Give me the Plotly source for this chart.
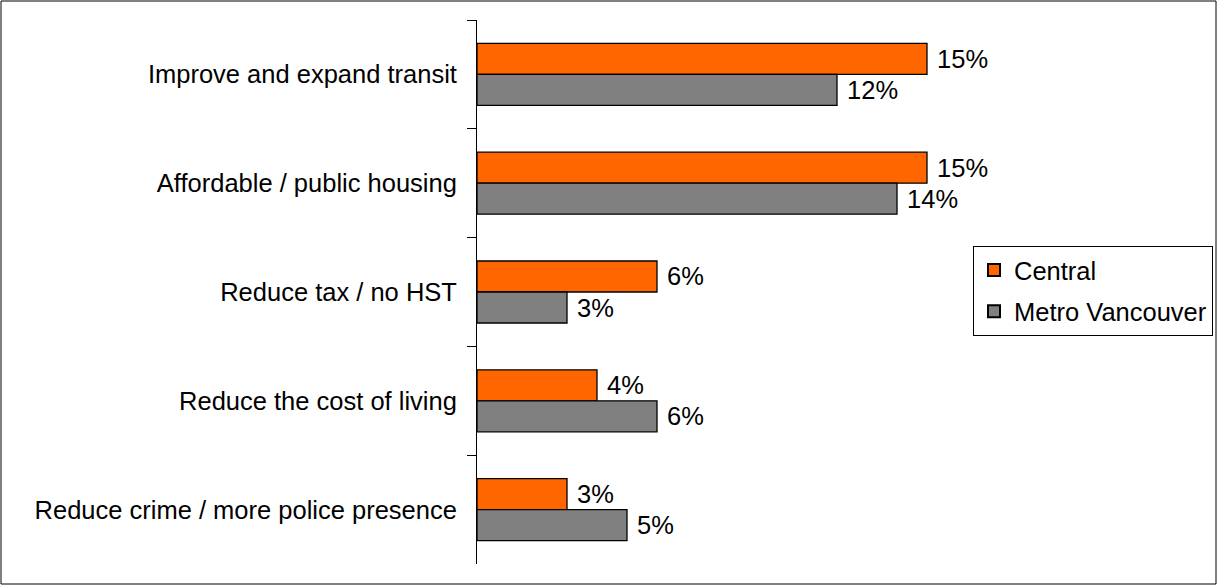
import plotly.graph_objects as go

categories = ["Improve and expand transit", "Affordable / public housing", "Reduce tax / no HST",
              "Reduce the cost of living", "Reduce crime / more police presence"]
central = [15, 15, 6, 4, 3]
metro = [12, 14, 3, 6, 5]

W, H = 1218, 586
L, R, T, B = 477, 957, 20, 564
pw, ph = R - L, B - T

font = dict(family="Liberation Sans, Arial, sans-serif", size=25.5, color="black")

fig = go.Figure()
fig.add_trace(go.Bar(name="Central", y=categories, x=central, orientation="h", legendgroup="a",
                     marker=dict(color="#FF6600", line=dict(color="black", width=1.3)),
                     text=[f"\u00a0{v}%" for v in central], textposition="outside",
                     textfont=font, cliponaxis=False, hoverinfo="skip"))
fig.add_trace(go.Bar(name="Metro Vancouver", y=categories, x=metro, orientation="h", legendgroup="b",
                     marker=dict(color="#808080", line=dict(color="black", width=1.3)),
                     text=[f"\u00a0{v}%" for v in metro], textposition="outside",
                     textfont=font, cliponaxis=False, hoverinfo="skip"))

fig.update_layout(
    width=W, height=H,
    margin=dict(l=L, r=W - R, t=T, b=H - B, pad=0, autoexpand=False),
    barmode="group", bargap=0.43, bargroupgap=0,
    plot_bgcolor="white", paper_bgcolor="white",
    font=font,
    showlegend=True,
    legend=dict(xref="container", yref="container", x=973 / W, y=1 - 246 / H,
                xanchor="left", yanchor="top",
                bordercolor="black", borderwidth=1, font=font, traceorder="grouped",
                itemsizing="constant", tracegroupgap=5, bgcolor="white"),
    xaxis=dict(visible=False, range=[0, 16], showgrid=False, zeroline=False),
    yaxis=dict(autorange="reversed", showline=True, linecolor="black", linewidth=1,
               ticks="outside", ticklen=9, tickcolor="black", tickson="boundaries",
               showgrid=False, tickfont=font, ticklabelstandoff=14, automargin=False),
    shapes=[dict(type="rect", xref="paper", yref="paper",
                 x0=(1 - L) / pw, x1=(W - 2 - L) / pw,
                 y0=(B - (H - 2)) / ph, y1=(B - 1) / ph,
                 line=dict(color="black", width=1), fillcolor="rgba(0,0,0,0)", layer="below")],
)

fig.write_html("out.html", config={"displayModeBar": False},
               post_script="document.body.style.margin='0';document.body.style.overflow='hidden';")
